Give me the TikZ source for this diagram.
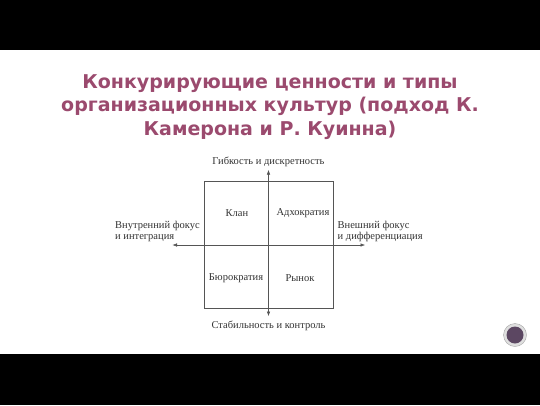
\documentclass[tikz,border=0pt]{standalone}
\usepackage{fontspec}
\setmainfont{Liberation Serif}
\newfontfamily\titlefont{DejaVu Sans}
\usetikzlibrary{positioning,arrows.meta}
\definecolor{titleplum}{HTML}{9B4A6E}
\definecolor{dotplum}{HTML}{5C4762}
\definecolor{axisgrey}{HTML}{555555}

\begin{document}
\begin{tikzpicture}[x=1pt,y=-1pt,
  axis/.style={draw=axisgrey, line width=0.5pt, {Latex[length=4.5pt,width=3.5pt]}-{Latex[length=4.5pt,width=3.5pt]}},
  quad/.style={font=\fontsize{10.5}{11.5}\selectfont, text=black!80, inner sep=1pt},
  side/.style={font=\fontsize{10.5}{11.5}\selectfont, text=black!80, align=left, anchor=west, inner sep=0pt}]
\useasboundingbox (0,0) rectangle (540,405);
\fill[white] (0,0) rectangle (540,405);
\fill[black] (0,0) rectangle (540,50);
\fill[black] (0,354) rectangle (540,405);

% title
\node[font=\titlefont\bfseries\fontsize{19}{23.5}\selectfont, text=titleplum, align=center] (title) at (270,107)
  {Конкурирующие ценности и типы\\организационных культур (подход К.\\Камерона и Р. Куинна)};

% the four quadrants
\node[draw=axisgrey, line width=0.5pt, minimum width=129pt, minimum height=127pt] (grid) at (268.5,244.5) {};
\node[quad] (klan) at (237,213) {Клан};
\node[quad] (adho) at (303,213) {Адхократия};
\node[quad] (bure) at (236,278) {Бюрократия};
\node[quad] (rynok) at (300,278) {Рынок};

% axes
\coordinate (top) at (268.5,170);
\coordinate (bottom) at (268.5,316);
\coordinate (left) at (172.5,245);
\coordinate (right) at (365,245);
\draw[axis] (bottom) -- (top);
\draw[axis] (left) -- (right);

\node[quad] (flex) at (268.5,162) {Гибкость и дискретность};
\node[quad] (stab) at (268.5,326) {Стабильность и контроль};
\node[side] (inner) at (115,231.5) {Внутренний фокус\\и интеграция};
\node[side] (outer) at (337.5,231.5) {Внешний фокус\\и дифференциация};

% slide button
\node[circle, draw=gray!70, line width=0.4pt, fill=gray!25, minimum size=23pt, inner sep=0pt] (btn) at (515,335) {};
\node[circle, fill=dotplum, minimum size=17pt, inner sep=0pt] (dot) at (btn.center) {};
\end{tikzpicture}
\end{document}
